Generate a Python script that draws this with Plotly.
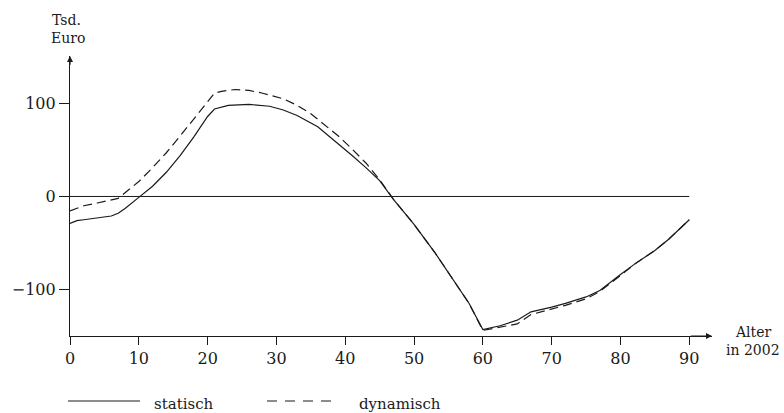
import plotly.graph_objects as go

# Data (Tsd. Euro by age in 2002)
age_statisch = [0, 1, 2, 4, 6, 7, 8, 10, 12, 14, 16, 18, 20, 21, 23, 26, 29, 31, 33, 36, 38, 41, 43, 45, 47,
                50, 53, 55, 58, 60, 62.5, 65, 67, 70, 72, 75, 77, 80, 82, 85, 87, 90]
val_statisch = [-29, -26, -25, -23, -21, -18, -13, -1, 11, 26, 44, 64, 86, 94, 98, 99, 97, 93, 87, 75, 63, 44, 31, 17, -3,
                -30, -60, -82, -115, -143, -139, -133, -124, -119, -115, -108, -101, -84, -73, -58, -46, -25]

age_dynamisch = [0, 2, 4, 6, 7, 8, 10, 12, 14, 16, 18, 20, 21, 22, 24, 26, 28, 31, 33, 35, 37, 39, 41, 43, 45, 47,
                 50, 53, 55, 58, 60, 62, 65, 67, 70, 72, 75, 77, 80, 82, 85, 87, 90]
val_dynamisch = [-15.5, -10, -7, -4, -2, 4, 16, 31, 47, 65, 83, 101, 111, 113, 115, 114, 111, 105, 98, 89, 77, 65, 51, 36, 18, -3,
                 -30, -60, -82, -115, -144, -141, -137, -127, -121, -117, -110, -102, -85, -73, -58, -46, -25]

x_ticks = [0, 10, 20, 30, 40, 50, 60, 70, 80, 90]
y_ticks = [-100, 0, 100]
y_ticktext = ["\u2212100", "0", "100"]

FONT = "DejaVu Serif"
INK = "#1a1a1a"

fig = go.Figure()
fig.add_trace(go.Scatter(x=age_statisch, y=val_statisch, mode="lines",
                         line=dict(color=INK, width=1.2), name="statisch", showlegend=False))
fig.add_trace(go.Scatter(x=age_dynamisch, y=val_dynamisch, mode="lines",
                         line=dict(color=INK, width=1.2, dash="9px,5px"), name="dynamisch", showlegend=False))

# zero reference line
fig.add_shape(type="line", xref="x", yref="y", x0=0, x1=90, y0=0, y1=0,
              line=dict(color=INK, width=1))

W, H = 784, 413
L, R, T, B = 70, 72, 56, 77
pw, ph = W - L - R, H - T - B


def px2paper(px, py):
    return (px - L) / pw, (H - B - py) / ph


def label(px, py, text, anchor="center", size=15):
    p = px2paper(px, py)
    fig.add_annotation(xref="paper", yref="paper", x=p[0], y=p[1], text=text, showarrow=False,
                       xanchor=anchor, yanchor="middle", font=dict(family=FONT, size=size, color=INK))


# legend (drawn manually)
for (x0, x1, dash, name, tx) in [(68, 140, "solid", "statisch", 152), (267, 337, "10px,8px", "dynamisch", 357)]:
    a = px2paper(x0, 401)
    b = px2paper(x1, 401)
    fig.add_shape(type="line", xref="paper", yref="paper", x0=a[0], x1=b[0], y0=a[1], y1=b[1],
                  line=dict(color=INK, width=1.1, dash=dash))
    label(tx, 404, name, anchor="left")

# axis arrowheads
fig.add_annotation(xref="x", yref="y", axref="x", ayref="y", x=0, y=151, ax=0, ay=140, text="",
                   showarrow=True, arrowhead=2, arrowsize=1, arrowwidth=1.2, arrowcolor=INK)
fig.add_annotation(xref="x", yref="y", axref="x", ayref="y", x=93.3, y=-150, ax=90, ay=-150, text="",
                   showarrow=True, arrowhead=2, arrowsize=1, arrowwidth=1.2, arrowcolor=INK)

# axis titles
label(66, 20, "Tsd.", size=14)
label(68, 38, "Euro", size=14)
label(753, 332, "Alter", size=14)
label(753, 350, "in 2002", size=14)

fig.update_xaxes(range=[0, 93.3], tickvals=x_ticks, ticks="outside", ticklen=8, tickwidth=1.2,
                 tickcolor=INK, showline=True, linecolor=INK, linewidth=1.2, showgrid=False, zeroline=False,
                 tickfont=dict(family=FONT, size=16, color=INK))
fig.update_yaxes(range=[-150, 151], tickvals=y_ticks, ticktext=y_ticktext, ticks="outside", ticklen=10,
                 tickwidth=1.2, tickcolor=INK, showline=True, linecolor=INK, linewidth=1.2, showgrid=False,
                 zeroline=False, tickfont=dict(family=FONT, size=16, color=INK))

fig.update_layout(width=W, height=H, margin=dict(l=L, r=R, t=T, b=B), plot_bgcolor="white",
                  paper_bgcolor="white", showlegend=False)

fig.write_html("out.html", config={"displayModeBar": False},
               post_script="document.body.style.margin='0';document.body.style.overflow='hidden';")
